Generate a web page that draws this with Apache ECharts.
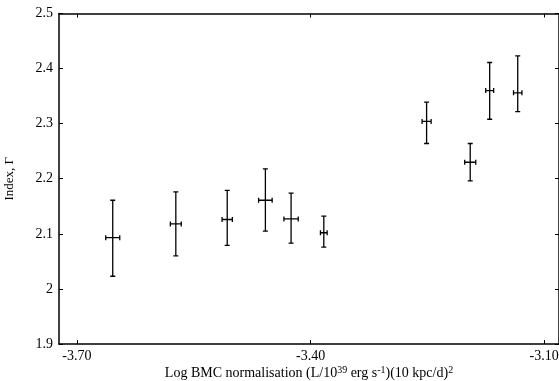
<!DOCTYPE html>
<html>
<head>
<meta charset="utf-8">
<script src="https://cdn.jsdelivr.net/npm/echarts@6/dist/echarts.min.js"></script>
<style>
html, body { margin: 0; padding: 0; background: #fff; }
#chart { width: 559px; height: 381px; }
</style>
</head>
<body>
<div id="chart"></div>
<script>
// log BMC normalisation (x), its half error, photon index and its error range
var bmcNorm = [-3.654, -3.573, -3.507, -3.458, -3.425, -3.383, -3.251, -3.195, -3.170, -3.134];
var bmcErr = [0.009, 0.007, 0.0066, 0.0087, 0.0092, 0.0043, 0.0058, 0.0071, 0.0051, 0.0054];
var gammaIndex = [2.093, 2.118, 2.126, 2.161, 2.127, 2.102, 2.304, 2.230, 2.360, 2.356];
var gammaLow = [2.023, 2.060, 2.079, 2.105, 2.083, 2.076, 2.264, 2.196, 2.308, 2.322];
var gammaHigh = [2.161, 2.176, 2.179, 2.218, 2.174, 2.132, 2.339, 2.264, 2.411, 2.423];
var xTicks = [-3.70, -3.40, -3.10];

var font = 'Liberation Serif';
var points = bmcNorm.map(function (x, i) {
    return [x, gammaIndex[i], bmcErr[i], gammaLow[i], gammaHigh[i]];
});

function renderItem(params, api) {
    var x = api.value(0), y = api.value(1), dx = api.value(2);
    var top = api.coord([x, api.value(4)]);
    var bot = api.coord([x, api.value(3)]);
    var left = api.coord([x - dx, y]);
    var right = api.coord([x + dx, y]);
    var cap = 2.5;
    var style = { stroke: '#000', lineWidth: 1.3 };
    function seg(x1, y1, x2, y2) {
        return { type: 'line', shape: { x1: x1, y1: y1, x2: x2, y2: y2 }, style: style };
    }
    return {
        type: 'group',
        children: [
            seg(top[0], top[1], bot[0], bot[1]),
            seg(top[0] - cap, top[1], top[0] + cap, top[1]),
            seg(bot[0] - cap, bot[1], bot[0] + cap, bot[1]),
            seg(left[0], left[1], right[0], right[1]),
            seg(left[0], left[1] - cap, left[0], left[1] + cap),
            seg(right[0], right[1] - cap, right[0], right[1] + cap)
        ]
    };
}

var frameLine = { show: true, onZero: false, lineStyle: { color: '#000', width: 1.5 } };
var innerTick = { show: true, inside: true, length: 4, lineStyle: { color: '#000', width: 1 } };

var myChart = echarts.init(document.getElementById('chart'));
var option = {
    animation: false,
    backgroundColor: '#fff',
    grid: { left: 59, top: 13.5, right: 0, bottom: 37, outerBoundsMode: 'none' },
    xAxis: [{
        type: 'value',
        min: -3.723,
        max: -3.081,
        position: 'bottom',
        name: 'Log BMC normalisation (L/10{sup|39} erg s{sup|-1})(10 kpc/d){sup|2}',
        nameLocation: 'middle',
        nameMoveOverlap: false,
        nameGap: 21,
        nameTextStyle: {
            fontFamily: font, fontSize: 14, color: '#000', lineHeight: 16,
            rich: { sup: { fontFamily: font, fontSize: 10, color: '#000', lineHeight: 16, verticalAlign: 'top' } }
        },
        axisLine: frameLine,
        axisTick: Object.assign({ customValues: xTicks }, innerTick),
        axisLabel: {
            customValues: xTicks, margin: 5,
            fontFamily: font, fontSize: 14, color: '#000',
            formatter: function (v) { return v.toFixed(2); }
        },
        splitLine: { show: false }
    }, {
        type: 'value',
        min: -3.723,
        max: -3.081,
        position: 'top',
        axisLine: frameLine,
        axisTick: Object.assign({ customValues: xTicks }, innerTick),
        axisLabel: { show: false },
        splitLine: { show: false }
    }],
    yAxis: [{
        type: 'value',
        min: 1.9,
        max: 2.5,
        interval: 0.1,
        position: 'left',
        name: 'Index, Γ',
        nameLocation: 'middle',
        nameMoveOverlap: false,
        nameGap: 43,
        nameTextStyle: { fontFamily: font, fontSize: 13, color: '#000' },
        axisLine: frameLine,
        axisTick: innerTick,
        axisLabel: { margin: 6, fontFamily: font, fontSize: 14, color: '#000' },
        splitLine: { show: false }
    }, {
        type: 'value',
        min: 1.9,
        max: 2.5,
        interval: 0.1,
        position: 'right',
        axisLine: frameLine,
        axisTick: innerTick,
        axisLabel: { show: false },
        splitLine: { show: false }
    }],
    series: [{
        type: 'custom',
        xAxisIndex: 0,
        yAxisIndex: 0,
        renderItem: renderItem,
        data: points,
        clip: true
    }]
};
myChart.setOption(option);
</script>
</body>
</html>
